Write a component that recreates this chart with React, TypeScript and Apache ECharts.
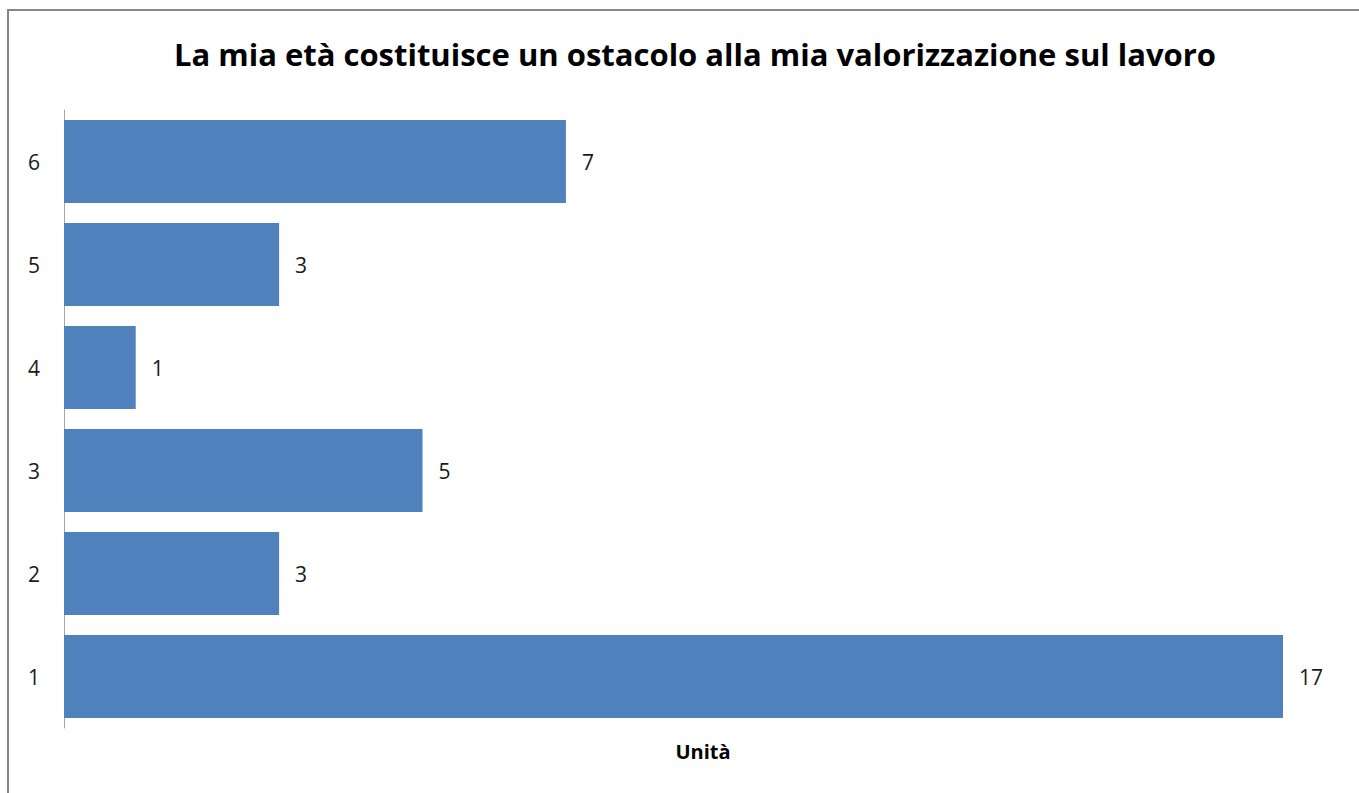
import React, { useEffect, useRef } from "react";
import * as echarts from "echarts";

const titleText = "La mia età costituisce un ostacolo alla mia valorizzazione sul lavoro";
const axisName = "Unità";
const categories = ["1", "2", "3", "4", "5", "6"];
const values = [17, 3, 5, 1, 3, 7];

export default function App() {
  const ref = useRef<HTMLDivElement>(null);
  useEffect(() => {
    if (!ref.current) return;
    const chart = echarts.init(ref.current, null, { renderer: "svg" });
    const font = "'Open Sans', Lato, sans-serif";
    chart.setOption({
      animation: false,
      backgroundColor: "#ffffff",
      title: {
        text: titleText,
        left: 690,
        top: 33,
        textAlign: "center",
        textStyle: { fontFamily: font, fontSize: 31, fontWeight: "bold", color: "#000000" },
      },
      grid: { left: 64, top: 110, right: 76, bottom: 65, containLabel: false },
      xAxis: {
        type: "value",
        min: 0,
        max: 17,
        show: false,
      },
      yAxis: {
        type: "category",
        data: categories,
        axisLine: { show: true, lineStyle: { color: "#a6a6a6", width: 1 } },
        axisTick: { show: false },
        axisLabel: { fontFamily: font, fontSize: 21, color: "#1a1a1a", margin: 24 },
        splitLine: { show: false },
      },
      series: [
        {
          type: "bar",
          data: values,
          barCategoryGap: "19.5%",
          itemStyle: { color: "#4f81bd" },
          label: {
            show: true,
            position: "right",
            distance: 16,
            fontFamily: font,
            fontSize: 21,
            color: "#1a1a1a",
          },
        },
      ],
      graphic: [
        {
          type: "rect",
          shape: { x: 8, y: 10, width: 1400, height: 900 },
          style: { fill: "none", stroke: "#878787", lineWidth: 2 },
          silent: true,
        },
        {
          type: "text",
          x: 703,
          y: 751,
          style: {
            text: axisName,
            fontFamily: font,
            fontSize: 20,
            fontWeight: "bold",
            fill: "#000000",
            align: "center",
            verticalAlign: "middle",
          },
        },
      ],
    });
    return () => chart.dispose();
  }, []);
  return (
    <div
      ref={ref}
      style={{ position: "fixed", left: 0, top: 0, width: 1359, height: 793 }}
    />
  );
}
